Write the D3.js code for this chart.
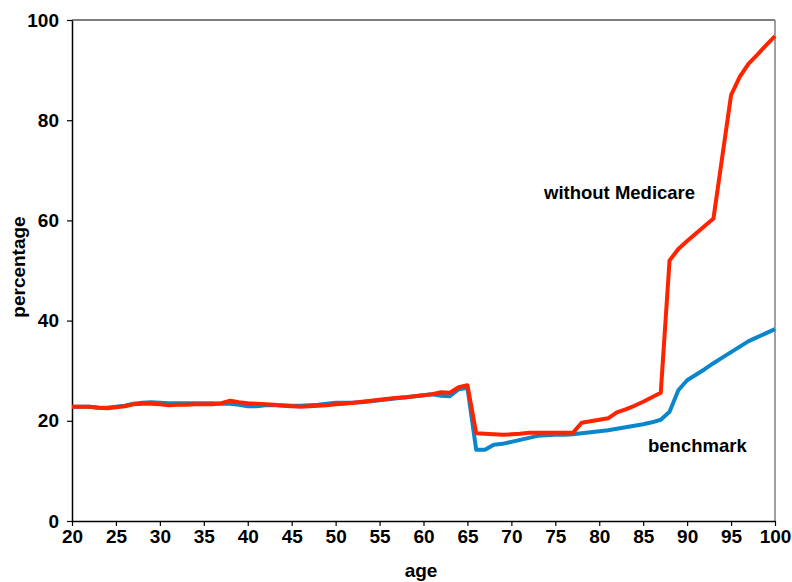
<!DOCTYPE html>
<html>
<head>
<meta charset="utf-8">
<script src="https://cdn.jsdelivr.net/npm/d3@7"></script>
<style>
  html, body { margin: 0; padding: 0; background: #fff; }
  svg { display: block; }
  .tick text { font-family: "Liberation Sans Narrow", "Arial Narrow", "Liberation Sans", Arial, sans-serif; font-weight: bold; font-size: 19px; fill: #000; }
  .lbl { font-family: "Liberation Sans", Arial, sans-serif; font-weight: bold; fill: #000; }
</style>
</head>
<body>
<svg id="chart" width="792" height="582"></svg>
<script>
const ages = d3.range(20, 101);
const benchmark = [
  22.8, 22.8, 22.8, 22.6, 22.6, 22.8, 23.0, 23.4, 23.6, 23.7,
  23.6, 23.5, 23.5, 23.5, 23.5, 23.5, 23.5, 23.4, 23.4, 23.2,
  22.9, 22.9, 23.1, 23.1, 23.1, 23.0, 23.0, 23.1, 23.2, 23.4,
  23.6, 23.6, 23.6, 23.7, 23.9, 24.1, 24.3, 24.5, 24.7, 24.9,
  25.1, 25.3, 25.0, 24.9, 26.3, 26.6, 14.2, 14.2, 15.2, 15.4,
  15.8, 16.2, 16.6, 17.0, 17.1, 17.2, 17.2, 17.3, 17.5, 17.7,
  17.9, 18.1, 18.4, 18.7, 19.0, 19.3, 19.7, 20.2, 21.8, 26.1,
  28.1, 29.2, 30.3, 31.5, 32.6, 33.7, 34.8, 35.9, 36.7, 37.5,
  38.3
];
const withoutMedicare = [
  22.8, 22.8, 22.8, 22.6, 22.5, 22.7, 22.9, 23.3, 23.4, 23.4,
  23.3, 23.1, 23.2, 23.2, 23.3, 23.3, 23.3, 23.5, 24.0, 23.7,
  23.5, 23.4, 23.3, 23.2, 23.0, 22.9, 22.8, 22.9, 23.0, 23.1,
  23.3, 23.4, 23.6, 23.8, 24.0, 24.2, 24.4, 24.6, 24.7, 24.9,
  25.1, 25.3, 25.7, 25.6, 26.7, 27.1, 17.5, 17.4, 17.3, 17.2,
  17.3, 17.4, 17.6, 17.6, 17.6, 17.6, 17.6, 17.6, 19.6, 19.9,
  20.2, 20.5, 21.7, 22.3, 23.0, 23.8, 24.7, 25.6, 52.0, 54.3,
  55.9, 57.4, 58.9, 60.4, 72.7, 85.0, 88.7, 91.3, 93.1, 95.0,
  96.8
];
const xTicks = d3.range(20, 101, 5);
const yTicks = [0, 20, 40, 60, 80, 100];

const svg = d3.select("#chart");
const m = { left: 72, right: 775, top: 20, bottom: 521 };
const x = d3.scaleLinear().domain([20, 100]).range([m.left, m.right]);
const y = d3.scaleLinear().domain([0, 100]).range([m.bottom, m.top]);

// frame: top and right
svg.append("line").attr("x1", m.left).attr("x2", m.right).attr("y1", m.top).attr("y2", m.top)
  .attr("stroke", "#000").attr("stroke-width", 1.2);
svg.append("line").attr("x1", m.right).attr("x2", m.right).attr("y1", m.top).attr("y2", m.bottom)
  .attr("stroke", "#808080").attr("stroke-width", 1.5);

const xAxis = svg.append("g").attr("transform", `translate(0,${m.bottom})`)
  .call(d3.axisBottom(x).tickValues(xTicks).tickSize(5).tickSizeOuter(0).tickPadding(4));
const yAxis = svg.append("g").attr("transform", `translate(${m.left},0)`)
  .call(d3.axisLeft(y).tickValues(yTicks).tickSize(5).tickSizeOuter(0).tickPadding(8));
[xAxis, yAxis].forEach(g => {
  g.select(".domain").attr("stroke", "#000").attr("stroke-width", 1.5);
  g.selectAll(".tick line").attr("stroke", "#000").attr("stroke-width", 1.2);
});

const line = d3.line().x((d, i) => x(ages[i])).y(d => y(d));
svg.append("path").datum(benchmark).attr("d", line)
  .attr("fill", "none").attr("stroke", "#0a86cc").attr("stroke-width", 4).attr("stroke-linejoin", "round");
svg.append("path").datum(withoutMedicare).attr("d", line)
  .attr("fill", "none").attr("stroke", "#ff2400").attr("stroke-width", 4).attr("stroke-linejoin", "round");

svg.append("text").attr("class", "lbl").attr("x", 421).attr("y", 577)
  .attr("text-anchor", "middle").attr("font-size", 19).text("age");
svg.append("text").attr("class", "lbl").attr("transform", `translate(25,267) rotate(-90)`)
  .attr("text-anchor", "middle").attr("font-size", 19).text("percentage");

svg.append("text").attr("class", "lbl").attr("x", 544).attr("y", 199)
  .attr("font-size", 18.5).text("without Medicare");
svg.append("text").attr("class", "lbl").attr("x", 648).attr("y", 452)
  .attr("font-size", 18.5).text("benchmark");
</script>
</body>
</html>
